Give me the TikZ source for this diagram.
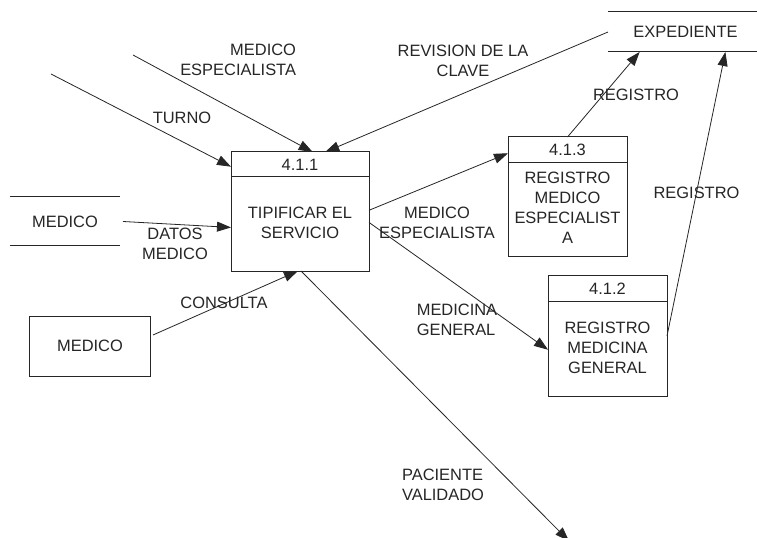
\documentclass[tikz,border=0pt]{standalone}
\usepackage{fontspec}
\setmainfont{Liberation Sans}
\usetikzlibrary{arrows.meta}
\definecolor{ink}{HTML}{262626}
\begin{document}
\begin{tikzpicture}[x=1bp,y=-1bp,
  every node/.style={font=\fontsize{16.5}{20}\selectfont, text=ink, inner sep=0pt, outer sep=0pt},
  procbox/.style={draw=ink, line width=1bp, minimum width=119bp, minimum height=119bp},
  entity/.style={draw=ink, line width=1bp},
  rule/.style={draw=ink, line width=1bp},
  flow/.style={draw=ink, line width=0.8bp, -{Triangle[length=14bp,width=10bp]}}
]
\fill[white] (0,0) rectangle (757,538);
\useasboundingbox (0,0) rectangle (757,538);

% process 4.1.1
\node[procbox, minimum width=138bp] (p1) at (300,211.5) {};
\draw[rule] ([yshift=-25bp]p1.north west) -- ([yshift=-25bp]p1.north east);
\node (p1id) at (300,165) {4.1.1};
\node[align=center] (p1tx) at (300,223) {TIPIFICAR EL\\SERVICIO};

% process 4.1.3
\node[procbox] (p3) at (567.5,196.5) {};
\draw[rule] ([yshift=-26bp]p3.north west) -- ([yshift=-26bp]p3.north east);
\node (p3id) at (567.5,150) {4.1.3};
\node[align=center] (p3tx) at (567.5,208) {REGISTRO\\MEDICO\\ESPECIALIST\\A};

% process 4.1.2
\node[procbox, minimum height=120bp] (p2) at (607.5,336) {};
\draw[rule] ([yshift=-26bp]p2.north west) -- ([yshift=-26bp]p2.north east);
\node (p2id) at (607.5,289) {4.1.2};
\node[align=center] (p2tx) at (607.5,348) {REGISTRO\\MEDICINA\\GENERAL};

% data store EXPEDIENTE
\node[minimum width=149bp, minimum height=40bp] (ex) at (682.5,32) {};
\draw[rule] (ex.north west) -- (ex.north east);
\draw[rule] (ex.south west) -- (ex.south east);
\node (extx) at (685.5,32) {EXPEDIENTE};

% data store MEDICO
\node[minimum width=110bp, minimum height=49bp] (ms) at (65,221.5) {MEDICO};
\draw[rule] (ms.north west) -- (ms.north east);
\draw[rule] (ms.south west) -- (ms.south east);

% external entity MEDICO
\node[entity, minimum width=120bp, minimum height=60bp] (me) at (90,346) {MEDICO};

% free ends of flows
\coordinate (t0) at (51,74);
\coordinate (m0) at (133,55);
\coordinate (pv) at (569,541);

% flows
\draw[flow] (t0) -- (p1.147);
\draw[flow] (m0) -- (p1.78);
\draw[flow] (ex.west) -- (p1.67);
\draw[flow] ([xshift=3bp]ms.east) -- (p1.193);
\draw[flow] ([shift={(3bp,11bp)}]me.east) -- (p1.268);
\draw[flow] (p1.1) -- (p3.144);
\draw[flow] (p1.351) -- (p2.193);
\draw[flow] (p1.271) -- (pv);
\draw[flow] (p3.90) -- (ex.205);
\draw[flow] (p2.0) -- (ex.335);

% flow labels
\node[align=right, anchor=east] (lme) at (296,60) {MEDICO\\ESPECIALISTA};
\node (lturno) at (182,118) {TURNO};
\node[align=center] (lrev) at (463,61) {REVISION DE LA\\CLAVE};
\node[align=center] (ldatos) at (175,243.5) {DATOS\\MEDICO};
\node (lcons) at (224,303) {CONSULTA};
\node[align=center] (lme2) at (437,222.5) {MEDICO\\ESPECIALISTA};
\node[align=left] (lmg) at (457,319.5) {MEDICINA\\GENERAL};
\node (lreg1) at (636,95) {REGISTRO};
\node (lreg2) at (696.5,193) {REGISTRO};
\node[align=left] (lpv) at (443,485) {PACIENTE\\VALIDADO};
\end{tikzpicture}
\end{document}
